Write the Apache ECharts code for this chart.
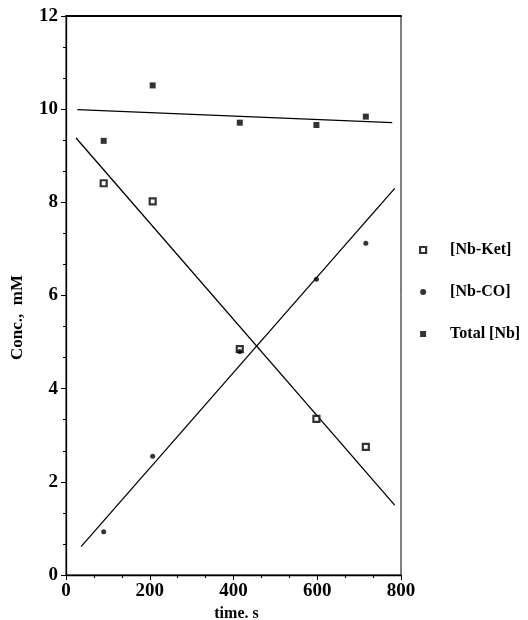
<!DOCTYPE html>
<html>
<head>
<meta charset="utf-8">
<script src="https://cdn.jsdelivr.net/npm/echarts@6/dist/echarts.min.js"></script>
<style>
  html, body { margin: 0; padding: 0; background: #fff; }
  #chart { width: 528px; height: 620px; }
</style>
</head>
<body>
<div id="chart"></div>
<script>
// Sampling times (s)
const times = [90, 207, 415, 598, 716];

// Measured concentrations (mM)
const nbKet   = [8.41, 8.02, 4.85, 3.35, 2.75];
const nbCO    = [0.93, 2.55, 4.80, 6.35, 7.12];
const totalNb = [9.32, 10.51, 9.71, 9.66, 9.84];

// Least-squares fit lines: [t, conc] end points
const fitTotal = [[27, 9.99], [779, 9.71]];
const fitKet   = [[24, 9.38], [785, 1.50]];
const fitCO    = [[36, 0.61], [785, 8.30]];

// Axis ranges and tick labels
const xTicks = [0, 200, 400, 600, 800];
const yTicks = [0, 2, 4, 6, 8, 10, 12];

const FONT = '"Liberation Serif", "DejaVu Serif", serif';

const pts = vals => times.map((t, i) => [t, vals[i]]);

const chart = echarts.init(document.getElementById('chart'), null, { renderer: 'canvas' });

const fitLine = (data) => ({
  type: 'line',
  data: data,
  symbol: 'none',
  silent: true,
  lineStyle: { color: '#000', width: 1.3 },
  z: 2
});

chart.setOption({
  backgroundColor: '#fff',
  animation: false,
  textStyle: { fontFamily: FONT, color: '#000' },
  grid: {
    left: 66, right: 127, top: 16, bottom: 45,
    outerBoundsMode: 'none',
    containLabel: false,
    show: true, borderColor: '#000', borderWidth: 1
  },
  legend: {
    orient: 'vertical',
    left: 414,
    top: 237,
    itemWidth: 6,
    itemHeight: 6,
    itemGap: 26,
    icon: 'rect',
    textStyle: { fontFamily: FONT, fontWeight: 'bold', fontSize: 16, color: '#000', padding: [0, 0, 0, 19] },
    data: [
      { name: '[Nb-Ket]', icon: 'rect', itemStyle: { color: '#fff', borderColor: '#000', borderWidth: 2.2 } },
      { name: '[Nb-CO]', icon: 'circle' },
      { name: 'Total [Nb]', icon: 'rect' }
    ]
  },
  xAxis: [{
    type: 'value',
    min: xTicks[0],
    max: xTicks[xTicks.length - 1],
    interval: 200,
    name: 'time. s',
    nameLocation: 'middle',
    nameGap: 29,
    nameTextStyle: { fontFamily: FONT, fontWeight: 'bold', fontSize: 16, color: '#000', padding: [0, 0, 0, 6] },
    axisLine: { show: true, lineStyle: { color: '#000', width: 1.3 } },
    axisTick: { show: true, inside: false, length: 5, lineStyle: { color: '#000' } },
    minorTick: { show: true, splitNumber: 3, length: 3, lineStyle: { color: '#000' } },
    axisLabel: { fontFamily: FONT, fontWeight: 'bold', fontSize: 19, color: '#000', margin: 7 },
    splitLine: { show: false }
  }, {
    type: 'value',
    position: 'top',
    min: xTicks[0],
    max: xTicks[xTicks.length - 1],
    axisLine: { show: true, lineStyle: { color: '#000', width: 2 } },
    axisTick: { show: false },
    axisLabel: { show: false },
    splitLine: { show: false }
  }],
  yAxis: {
    type: 'value',
    min: yTicks[0],
    max: yTicks[yTicks.length - 1],
    interval: 2,
    name: 'Conc.,  mM',
    nameLocation: 'middle',
    nameGap: 40,
    nameTextStyle: { fontFamily: FONT, fontWeight: 'bold', fontSize: 17, color: '#000', padding: [0, 44, 0, 0] },
    axisLine: { show: true, lineStyle: { color: '#000', width: 1.3 } },
    axisTick: { show: true, inside: false, length: 5, lineStyle: { color: '#000' } },
    minorTick: { show: true, splitNumber: 3, length: 3, lineStyle: { color: '#000' } },
    axisLabel: { fontFamily: FONT, fontWeight: 'bold', fontSize: 19, color: '#000', margin: 8 },
    splitLine: { show: false }
  },
  series: [
    fitLine(fitTotal),
    fitLine(fitKet),
    fitLine(fitCO),
    {
      name: '[Nb-Ket]',
      type: 'scatter',
      data: pts(nbKet),
      symbol: 'rect',
      symbolSize: 6,
      itemStyle: { color: '#fff', borderColor: '#000', borderWidth: 2.2 },
      z: 4
    },
    {
      name: '[Nb-CO]',
      type: 'scatter',
      data: pts(nbCO),
      symbol: 'circle',
      symbolSize: 5,
      itemStyle: { color: '#000' },
      z: 4
    },
    {
      name: 'Total [Nb]',
      type: 'scatter',
      data: pts(totalNb),
      symbol: 'rect',
      symbolSize: 6,
      itemStyle: { color: '#000' },
      z: 4
    }
  ]
});
</script>
</body>
</html>
